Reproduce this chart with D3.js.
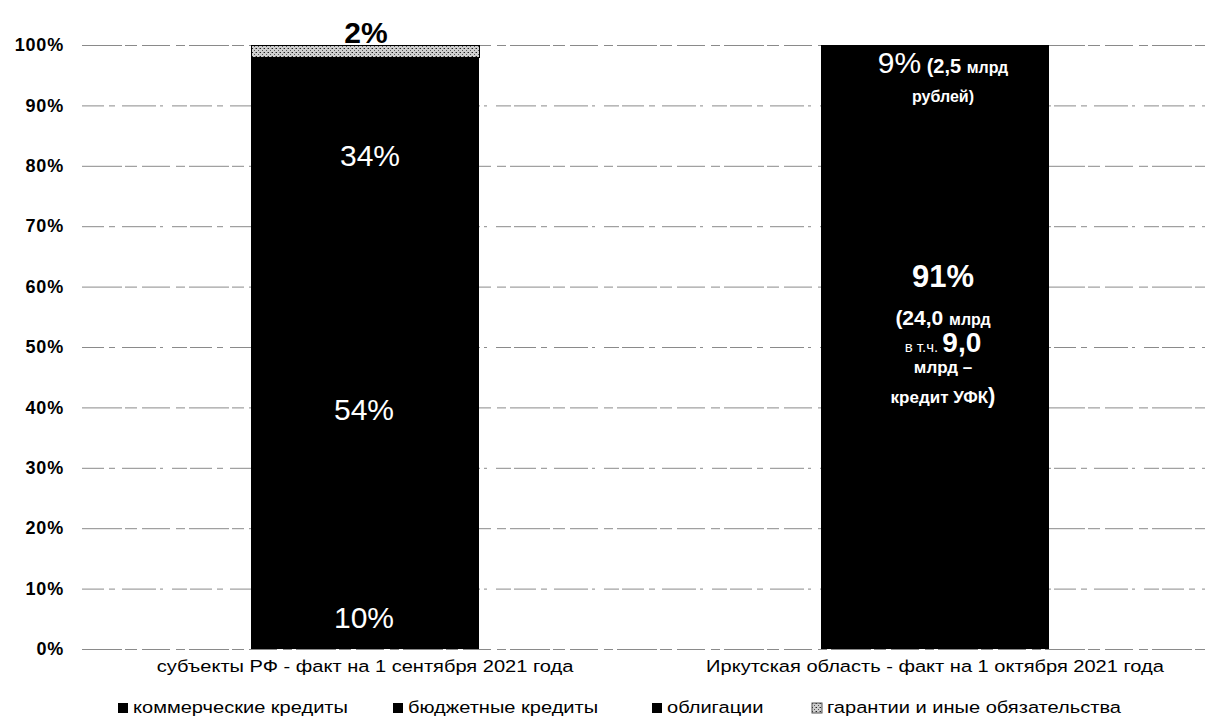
<!DOCTYPE html>
<html><head><meta charset="utf-8">
<script src="https://cdn.jsdelivr.net/npm/d3@7"></script>
<style>
html,body{margin:0;padding:0;background:#fff;}
svg{display:block;font-family:"Liberation Sans",Arial,sans-serif;}
</style></head>
<body><svg id="c" width="1207" height="719"></svg>
<script>
const categories = ["субъекты РФ - факт на 1 сентября 2021 года", "Иркутская область - факт на 1 октября 2021 года"];
const seriesNames = ["коммерческие кредиты", "бюджетные кредиты", "облигации", "гарантии и иные обязательства"];
const commercial = [10, 9];
const budget = [54, 91];
const bonds = [34, 0];
const guarantees = [2, 0];
const yTicks = [0, 10, 20, 30, 40, 50, 60, 70, 80, 90, 100];
const irkTopNote = ["(2,5", "млрд", "рублей)"];
const irkMainNote = ["(24,0", "млрд", "в т.ч.", "9,0", "млрд –", "кредит УФК", ")"];

const svg = d3.select("#c");
const rows = categories.map((c, i) => ({cat: c, commercial: commercial[i], budget: budget[i], bonds: bonds[i], guarantees: guarantees[i]}));
const keys = ["commercial", "budget", "bonds", "guarantees"];
const stack = d3.stack().keys(keys)(rows);

const y = d3.scaleLinear().domain([0, 100]).range([649, 45]);
const x = d3.scaleBand().domain(categories).range([80, 1220]).paddingInner(0.6).paddingOuter(0.3);
const gridX1 = 82, gridX2 = 1205;
const SX = 1.18;

// pattern for guarantees
const defs = svg.append("defs");
const pat = defs.append("pattern").attr("id", "hatch").attr("width", 4).attr("height", 4).attr("patternUnits", "userSpaceOnUse");
pat.append("rect").attr("width", 4).attr("height", 4).attr("fill", "#cfcfcf");
pat.append("rect").attr("x", 0).attr("y", 0).attr("width", 1).attr("height", 1).attr("fill", "#222");
pat.append("rect").attr("x", 2).attr("y", 2).attr("width", 1).attr("height", 1).attr("fill", "#555");
pat.append("rect").attr("x", 3).attr("y", 0).attr("width", 1).attr("height", 1).attr("fill", "#888");

// gridlines
svg.append("g").selectAll("line").data(yTicks).join("line")
  .attr("x1", gridX1).attr("x2", gridX2)
  .attr("y1", d => y(d) + 0.5).attr("y2", d => y(d) + 0.5)
  .attr("stroke", "#8a8a8a").attr("stroke-width", 1)
  .attr("stroke-dasharray", (d, i) => i % 2 ? "22,5,6,7,34,4,3,9,15,3" : "40,3,12,5,28,6,9,4");

// y axis labels
const yAxis = d3.axisLeft(y).tickValues(yTicks).tickFormat(d => d + "%").tickSize(0).tickPadding(0);
const ya = svg.append("g").attr("transform", "translate(64,0)").call(yAxis);
ya.select(".domain").remove();
ya.selectAll("text").attr("font-size", 18).attr("font-weight", "bold").attr("fill", "#000")
  .attr("font-family", "Liberation Sans, Arial, sans-serif").attr("letter-spacing", 0.8);

// bars
const fills = {commercial: "#000", budget: "#000", bonds: "#000", guarantees: "url(#hatch)"};
svg.append("g").attr("shape-rendering", "crispEdges").selectAll("g").data(stack).join("g")
  .attr("fill", d => fills[d.key])
  .selectAll("rect").data(d => d.map(p => Object.assign({key: d.key}, p))).join("rect")
  .attr("x", d => x(d.data.cat)).attr("width", x.bandwidth())
  .attr("y", d => y(d[1])).attr("height", d => y(d[0]) - y(d[1]))
  .attr("stroke", d => d.key === "guarantees" && d[1] > d[0] ? "#000" : "none")
  .attr("stroke-width", 1);

// bar 1 value labels
const c0 = x(categories[0]) + x.bandwidth() / 2;
const s0 = stack.map(s => s[0]);
const nudge = {commercial: -1, budget: -16, bonds: -4};
s0.forEach((seg, k) => {
  const key = keys[k];
  const v = seg[1] - seg[0];
  if (key === "guarantees") {
    svg.append("text").attr("x", c0 + 1).attr("y", y(seg[1]) - 2).attr("text-anchor", "middle")
      .attr("font-size", 30).attr("font-weight", "bold").attr("fill", "#000").text(v + "%");
  } else {
    svg.append("text").attr("x", c0 + (key === "bonds" ? 5 : -1)).attr("y", y((seg[0] + seg[1]) / 2) + 10 + nudge[key]).attr("text-anchor", "middle")
      .attr("font-size", 30).attr("fill", "#fff").text(v + "%");
  }
});

// bar 2 labels
const c1 = x(categories[1]) + x.bandwidth() / 2 + 8;
const t1 = svg.append("text").attr("x", c1).attr("y", y(100) + 28).attr("text-anchor", "middle").attr("fill", "#fff");
t1.append("tspan").attr("font-size", 30).text(commercial[1] + "%");
t1.append("tspan").attr("font-size", 20).attr("font-weight", "bold").text(" " + irkTopNote[0] + " ");
t1.append("tspan").attr("font-size", 16).attr("font-weight", "bold").text(irkTopNote[1]);
svg.append("text").attr("x", c1).attr("y", y(100) + 57).attr("text-anchor", "middle").attr("fill", "#fff")
  .attr("font-size", 16).attr("font-weight", "bold").text(irkTopNote[2]);

const mb = y(60);
svg.append("text").attr("x", c1).attr("y", mb).attr("text-anchor", "middle").attr("fill", "#fff")
  .attr("font-size", 31).attr("font-weight", "bold").text(budget[1] + "%");
const l2 = svg.append("text").attr("x", c1).attr("y", mb + 38).attr("text-anchor", "middle").attr("fill", "#fff").attr("font-weight", "bold");
l2.append("tspan").attr("font-size", 21).text(irkMainNote[0] + " ");
l2.append("tspan").attr("font-size", 16).text(irkMainNote[1]);
const l3 = svg.append("text").attr("x", c1).attr("y", mb + 65).attr("text-anchor", "middle").attr("fill", "#fff");
l3.append("tspan").attr("font-size", 15).text(irkMainNote[2] + " ");
l3.append("tspan").attr("font-size", 28).attr("font-weight", "bold").text(irkMainNote[3]);
svg.append("text").attr("x", c1).attr("y", mb + 86).attr("text-anchor", "middle").attr("fill", "#fff")
  .attr("font-size", 17).attr("font-weight", "bold").text(irkMainNote[4]);
const l5 = svg.append("text").attr("x", c1).attr("y", mb + 116).attr("text-anchor", "middle").attr("fill", "#fff").attr("font-weight", "bold");
l5.append("tspan").attr("font-size", 17).text(irkMainNote[5]);
l5.append("tspan").attr("font-size", 22).text(irkMainNote[6]);

// category labels
const xAxis = d3.axisBottom(x).tickSize(0).tickPadding(0);
const xa = svg.append("g").attr("transform", "translate(0,672)").call(xAxis);
xa.select(".domain").remove();
xa.selectAll("text").attr("dy", 0).attr("y", 0).attr("font-size", 17).attr("fill", "#000")
  .attr("font-family", "Liberation Sans, Arial, sans-serif").attr("transform", `scale(${SX},1)`);

// legend
const legX = [118, 393, 652, 812];
const lg = svg.append("g").selectAll("g").data(seriesNames).join("g")
  .attr("transform", (d, i) => `translate(${legX[i]},703)`);
lg.append("rect").attr("width", 10).attr("height", 10)
  .attr("fill", (d, i) => i === 3 ? "url(#hatch)" : "#000")
  .attr("stroke", (d, i) => i === 3 ? "#555" : "none");
lg.append("text").attr("transform", `translate(15,10) scale(${SX},1)`).attr("font-size", 17).attr("fill", "#000").text(d => d);
</script></body></html>
